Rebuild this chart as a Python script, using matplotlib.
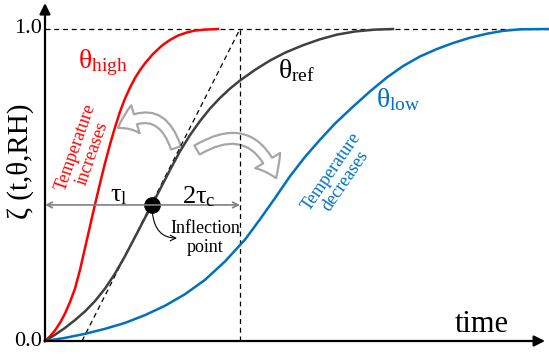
import matplotlib
matplotlib.use('Agg')
import matplotlib.pyplot as plt
from matplotlib.patches import FancyArrowPatch

plt.rcParams['font.family'] = ['Liberation Serif', 'DejaVu Serif']
plt.rcParams['mathtext.fontset'] = 'custom'
plt.rcParams['mathtext.rm'] = 'Liberation Serif'
plt.rcParams['mathtext.it'] = 'Liberation Serif'
plt.rcParams['mathtext.bf'] = 'Liberation Serif:bold'

# degree of conversion curves (time in arbitrary units)
t_high = [0, 5, 10, 15, 20, 25, 30, 35, 40, 45, 50, 55, 60, 65, 70, 75, 80, 85,
          90, 95, 100, 108, 117, 125, 133, 142, 150, 160, 173]
z_high = [0, 0.015, 0.034, 0.058, 0.088, 0.125, 0.168, 0.228, 0.298, 0.368,
          0.438, 0.505, 0.570, 0.630, 0.685, 0.735, 0.777, 0.812, 0.843, 0.868,
          0.890, 0.920, 0.947, 0.965, 0.979, 0.989, 0.995, 0.998, 1.0]

t_ref = [0, 10, 20, 30, 40, 50, 60, 70, 80, 90, 100, 107, 115, 125, 135, 145,
         155, 165, 175, 185, 195, 210, 225, 240, 258, 275, 292, 310, 330, 348]
z_ref = [0, 0.020, 0.042, 0.067, 0.095, 0.128, 0.168, 0.216, 0.272, 0.333,
         0.395, 0.436, 0.486, 0.548, 0.608, 0.660, 0.705, 0.745, 0.779, 0.809,
         0.835, 0.869, 0.899, 0.924, 0.948, 0.967, 0.982, 0.992, 0.998, 1.0]

t_low = [0, 20, 40, 60, 80, 100, 120, 140, 160, 180, 200, 215, 230, 245, 260,
         275, 290, 308, 325, 342, 358, 375, 392, 408, 425, 442, 458, 475, 504]
z_low = [0, 0.010, 0.023, 0.039, 0.058, 0.083, 0.113, 0.150, 0.196, 0.255,
         0.325, 0.390, 0.458, 0.528, 0.590, 0.645, 0.697, 0.751, 0.800, 0.845,
         0.881, 0.912, 0.936, 0.955, 0.972, 0.985, 0.994, 0.999, 1.0]

# inflection point of the reference curve and its tangent
t_infl, z_infl = 107, 0.436
t_lag = 37        # tangent meets zeta = 0
t_top = 195       # tangent meets zeta = 1

fig = plt.figure(figsize=(5.49, 3.58), dpi=100)
ax = fig.add_axes([0, 0, 1, 1])
ax.set_xlim(-45, 504)
ax.set_ylim(-17 / 312, 341 / 312)
ax.axis('off')

# axes with arrows
ax.annotate('', xy=(0, 1.083), xytext=(0, 0),
            arrowprops=dict(arrowstyle='-|>', color='k', lw=1.6,
                            mutation_scale=16, shrinkA=0, shrinkB=0))
ax.annotate('', xy=(500, 0), xytext=(0, 0),
            arrowprops=dict(arrowstyle='-|>', color='k', lw=1.6,
                            mutation_scale=16, shrinkA=0, shrinkB=0))

# guide lines
ax.plot([0, 504], [1, 1], color='k', lw=0.9, ls=(0, (4, 3)))
ax.plot([t_top, t_top], [0, 1], color='k', lw=0.9, ls=(0, (4, 3)))
ax.plot([t_lag, t_top], [0, 1], color='k', lw=0.9, ls=(0, (4, 3)))

# curves
ax.plot(t_high, z_high, color='#FF0000', lw=1.8, solid_joinstyle='round')
ax.plot(t_ref, z_ref, color='#404040', lw=1.8, solid_joinstyle='round')
ax.plot(t_low, z_low, color='#0070C0', lw=1.8, solid_joinstyle='round')

# time constants
ax.annotate('', xy=(0, z_infl), xytext=(t_top, z_infl),
            arrowprops=dict(arrowstyle='<->', color='#808080', lw=1.2,
                            shrinkA=0, shrinkB=0))
ax.plot(t_infl, z_infl, 'o', color='k', ms=11)
ax.text(65, 0.446, r'$\tau_{l}$', fontsize=19)
ax.text(137, 0.442, r'$2\tau_{c}$', fontsize=19)

ax.annotate('', xy=(132, 0.33), xytext=(t_infl, z_infl),
            arrowprops=dict(arrowstyle='->', color='k', lw=0.8,
                            connectionstyle='angle3,angleA=-90,angleB=0',
                            shrinkA=6, shrinkB=0))
ax.text(160, 0.33, 'Inflection\npoint', fontsize=13, ha='center', va='center',
        linespacing=1.15)

# curve labels
ax.text(33, 0.875, r'$\theta_{high}$', fontsize=20, color='#FF0000')
ax.text(233, 0.843, r'$\theta_{ref}$', fontsize=20, color='k')
ax.text(331, 0.75, r'$\theta_{low}$', fontsize=20, color='#0070C0')

ax.text(39, 0.612, 'Temperature\nincreases', fontsize=13, color='#FF0000',
        rotation=70.6, ha='center', va='center', linespacing=1.0,
        rotation_mode='anchor')
ax.text(293, 0.529, 'Temperature\ndecreases', fontsize=13, color='#0070C0',
        rotation=55.5, ha='center', va='center', linespacing=1.0,
        rotation_mode='anchor')

# hollow curved arrows
for pa, pb, rad in [((131, 0.619), (73, 0.683), 0.65),
                    ((152, 0.612), (231, 0.522), -0.6)]:
    arr = FancyArrowPatch(pa, pb, connectionstyle='arc3,rad=%s' % rad,
                          arrowstyle='simple,head_length=1.4,head_width=2.1,tail_width=0.75',
                          mutation_scale=10, facecolor='white', edgecolor='#A6A6A6',
                          lw=1.6, shrinkA=0, shrinkB=0)
    ax.add_patch(arr)

# axis texts
ax.text(-3, 1.0, '1.0', fontsize=16, ha='right', va='center')
ax.text(-3, 0.0, '0.0', fontsize=16, ha='right', va='center')
ax.text(-25, 0.577, 'ζ (t,θ,RH)', fontsize=21, rotation=90, ha='center', va='center')
ax.text(410, 0.029, 'time', fontsize=22, ha='left', va='baseline')

fig.savefig('out.png', dpi=100)
